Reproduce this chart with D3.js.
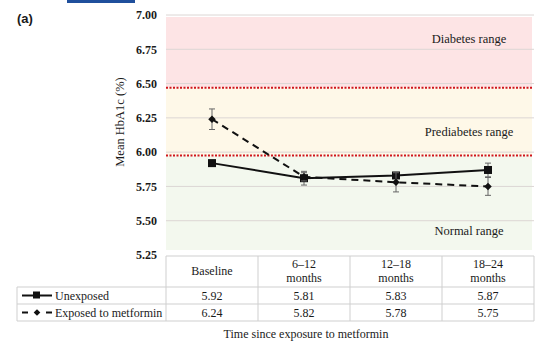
<!DOCTYPE html>
<html><head><meta charset="utf-8">
<script src="https://cdn.jsdelivr.net/npm/d3@7"></script>
<style>body{margin:0;background:#fff}svg{display:block}text{font-family:"Liberation Serif","Times New Roman",serif;fill:#1a1a1a}</style>
</head><body>
<script>
const categories = ["Baseline","6\u201312|months","12\u201318|months","18\u201324|months"];
const unexposed = [5.92,5.81,5.83,5.87];
const unexposedErr = [0.02,0.05,0.02,0.05];
const exposed = [6.24,5.82,5.78,5.75];
const exposedErr = [0.075,0.03,0.07,0.065];
const yTicks = [5.25,5.50,5.75,6.00,6.25,6.50,6.75,7.00];
const ranges = [
  {name:"Diabetes range", from:6.47, to:7.00, color:"#fde4e5", labelAt:6.82},
  {name:"Prediabetes range", from:5.975, to:6.47, color:"#fef8e8", labelAt:6.14},
  {name:"Normal range", from:5.25, to:5.975, color:"#f3f8ee", labelAt:5.42}
];
const series = [
  {name:"Unexposed", values:unexposed, err:unexposedErr, dash:null, marker:"square"},
  {name:"Exposed to metformin", values:exposed, err:exposedErr, dash:"7,5", marker:"diamond"}
];

const W=549,H=350;
const svg=d3.select("body").append("svg").attr("width",W).attr("height",H);
const x=d3.scaleBand().domain(categories).range([166,534]);
const y=d3.scaleLinear().domain([5.25,7.00]).range([255,15]);

svg.append("rect").attr("x",67).attr("y",0).attr("width",68).attr("height",3).attr("fill","#1f4f9c");
svg.append("text").attr("x",17).attr("y",23).style("font-family","Liberation Sans, Arial, sans-serif").style("font-weight","bold").style("font-size","13px").text("(a)");

svg.selectAll("rect.bg").data(ranges).join("rect").attr("class","bg")
  .attr("x",166).attr("width",366)
  .attr("y",d=>Math.max(y(d.to),17)).attr("height",d=>Math.min(y(d.from),250)-Math.max(y(d.to),17))
  .attr("fill",d=>d.color);

svg.selectAll("line.grid").data(yTicks.filter(t=>t>5.25)).join("line").attr("class","grid")
  .attr("x1",166).attr("x2",534).attr("y1",d=>y(d)).attr("y2",d=>y(d))
  .attr("stroke","#dcd6d4").attr("stroke-width",1);

svg.selectAll("line.thr").data(ranges.slice(0,2)).join("line").attr("class","thr")
  .attr("x1",166).attr("x2",532).attr("y1",d=>y(d.from)).attr("y2",d=>y(d.from))
  .attr("stroke","#d0161c").attr("stroke-width",2).attr("stroke-dasharray","2,1.5");

svg.selectAll("text.rl").data(ranges).join("text").attr("class","rl")
  .attr("x",469).attr("y",d=>y(d.labelAt)).attr("text-anchor","middle").attr("dominant-baseline","middle")
  .style("font-size","12.5px").text(d=>d.name);

const yAxis=d3.axisLeft(y).tickValues(yTicks).tickFormat(d3.format(".2f")).tickSize(0).tickPadding(0);
const ya=svg.append("g").attr("transform","translate(157,0)").call(yAxis);
ya.select(".domain").remove();
ya.selectAll("text").style("font-family","Liberation Serif, serif").style("font-size","12px").style("font-weight","bold").attr("fill","#2a2a2a");

svg.append("text").attr("transform","translate(121,122) rotate(-90)").attr("text-anchor","middle")
  .attr("dominant-baseline","middle").style("font-size","12.5px").text("Mean HbA1c (%)");

const cx=c=>x(c)+x.bandwidth()/2;
const line=d3.line().x((d,i)=>cx(categories[i])).y(d=>y(d));
series.forEach(s=>{
  const g=svg.append("g");
  s.values.forEach((v,i)=>{
    const X=cx(categories[i]);
    g.append("line").attr("x1",X).attr("x2",X).attr("y1",y(v+s.err[i])).attr("y2",y(v-s.err[i])).attr("stroke","#666").attr("stroke-width",1);
    [v+s.err[i],v-s.err[i]].forEach(e=>g.append("line").attr("x1",X-3).attr("x2",X+3).attr("y1",y(e)).attr("y2",y(e)).attr("stroke","#666").attr("stroke-width",1));
  });
  g.append("path").datum(s.values).attr("d",line).attr("fill","none").attr("stroke","#111").attr("stroke-width",2)
    .attr("stroke-dasharray",s.dash);
  s.values.forEach((v,i)=>{
    const X=cx(categories[i]),Y=y(v);
    if(s.marker==="square") g.append("rect").attr("x",X-4).attr("y",Y-4).attr("width",8).attr("height",8).attr("fill","#111");
    else g.append("path").attr("d",d3.symbol(d3.symbolDiamond2,36)()).attr("transform",`translate(${X},${Y})`).attr("fill","#111");
  });
});

const tb="#cfcfcf";
const colEdges=[166].concat(categories.map(c=>x(c)+x.bandwidth()));
const rowTop=256,hdrBot=287,r1=304,r2=321;
const tg=svg.append("g");
tg.append("line").attr("x1",166).attr("x2",534).attr("y1",rowTop).attr("y2",rowTop).attr("stroke",tb);
[hdrBot,r1,r2].forEach(yy=>tg.append("line").attr("x1",17).attr("x2",534).attr("y1",yy).attr("y2",yy).attr("stroke",tb));
colEdges.forEach(xx=>tg.append("line").attr("x1",xx).attr("x2",xx).attr("y1",rowTop).attr("y2",r2).attr("stroke",tb));
tg.append("line").attr("x1",17).attr("x2",17).attr("y1",hdrBot).attr("y2",r2).attr("stroke",tb);
categories.forEach(c=>{
  const parts=c.split("|");
  const t=tg.append("text").attr("x",cx(c)).attr("text-anchor","middle").style("font-size","12px");
  if(parts.length===1) t.attr("y",275).text(parts[0]);
  else{ t.append("tspan").attr("x",cx(c)).attr("y",268).text(parts[0]); t.append("tspan").attr("x",cx(c)).attr("y",282).text(parts[1]); }
});
const rowsY=[r1-4,r2-4];
series.forEach((s,si)=>{
  const yy=(si===0?hdrBot:r1)+ (r1-hdrBot)/2;
  s.values.forEach((v,i)=>tg.append("text").attr("x",cx(categories[i])).attr("y",rowsY[si]).attr("text-anchor","middle").style("font-size","12px").text(d3.format(".2f")(v)));
  tg.append("line").attr("x1",22).attr("x2",52).attr("y1",yy).attr("y2",yy).attr("stroke","#111").attr("stroke-width",2).attr("stroke-dasharray",s.dash?"6,18,6":null);
  if(s.marker==="square") tg.append("rect").attr("x",33).attr("y",yy-4).attr("width",7).attr("height",7).attr("fill","#111");
  else tg.append("path").attr("d",d3.symbol(d3.symbolDiamond2,28)()).attr("transform",`translate(37,${yy})`).attr("fill","#111");
  tg.append("text").attr("x",55).attr("y",rowsY[si]).style("font-size","12px").text(s.name);
});

svg.append("text").attr("x",306).attr("y",338).attr("text-anchor","middle").style("font-size","12px").text("Time since exposure to metformin");
</script>
</body></html>
